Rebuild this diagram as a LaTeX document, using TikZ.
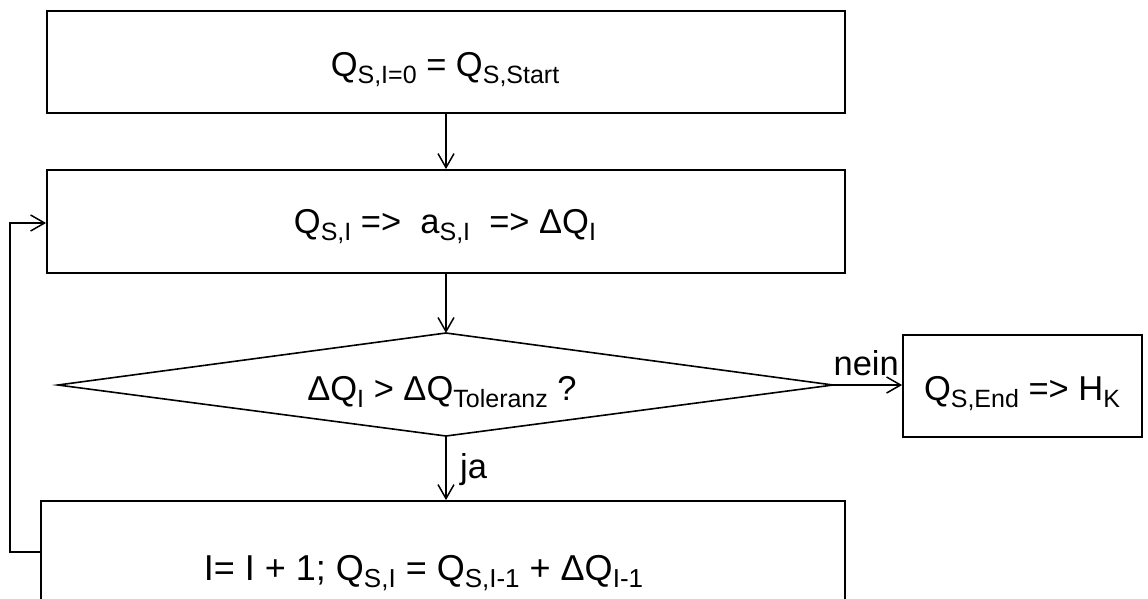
\documentclass[tikz,border=0pt]{standalone}
\usepackage{fontspec}
\setmainfont{Liberation Sans}
\usetikzlibrary{arrows.meta}
% lowered index in a smaller size
\newcommand{\lowidx}[1]{\raisebox{-0.22em}{\fontsize{25}{28}\selectfont #1}}
\newcommand{\lowidxb}[1]{\raisebox{-0.22em}{\fontsize{26}{29}\selectfont #1}}
\begin{document}
\begin{tikzpicture}[x=1pt,y=-1pt,
  txt/.style={font=\fontsize{34.5}{40}\selectfont, inner sep=0pt, anchor=base},
  stepbox/.style={draw, line width=1.8pt, inner sep=0pt},
  flow/.style={line width=1.5pt, -{Straight Barb[length=14pt,width=16pt,line width=1.5pt]}}]
  \useasboundingbox (0,0) rectangle (1148,598);

  % process boxes
  \node[stepbox, minimum width=798pt, minimum height=102pt] (init) at (446,62) {};
  \node[txt] (tinit) at (445,76) {Q\lowidx{S,I=0} = Q\lowidx{S,Start}};

  \node[stepbox, minimum width=798pt, minimum height=103pt] (calc) at (446,221.5) {};
  \node[txt] (tcalc) at (445,233) {Q\lowidx{S,I} =>\ \ a\lowidx{S,I}\ \ => ΔQ\lowidx{I}};

  % decision
  \coordinate (dtop) at (446,333);
  \coordinate (dbot) at (446,436);
  \coordinate (dleft) at (58,385);
  \coordinate (dright) at (833,385);
  \draw[line width=1.6pt, line join=miter] (dtop) -- (dright) -- (dbot) -- (dleft) -- cycle;
  \node[txt] (tdec) at (442,400) {ΔQ\lowidx{I} > ΔQ\lowidx{Toleranz} ?};

  \node[stepbox, minimum width=239pt, minimum height=102pt] (res) at (1022.5,386) {};
  \node[txt] (tres) at (1022,400) {Q\lowidx{S,End} => H\lowidx{K}};

  \node[stepbox, minimum width=804pt, minimum height=113pt] (upd) at (443,557.5) {};
  \node[txt, font=\fontsize{36}{42}\selectfont] (tupd) at (423.5,580) {I= I + 1; Q\lowidxb{S,I} = Q\lowidxb{S,I-1} + ΔQ\lowidxb{I-1}};

  % connectors
  \draw[flow] (init.south) -- (calc.north);
  \draw[flow] (calc.south) -- (dtop);
  \draw[flow] (dright) -- (res.west |- dright);
  \draw[flow] (dbot) -- (upd.north -| dbot);
  \coordinate (lb) at (10,552);
  \coordinate (lt) at (10,223);
  \draw[flow] (upd.west |- lb) -- (lb) -- (lt) -- (calc.west |- lt);

  % branch labels
  \node[txt, anchor=base east] (nein) at (899,375) {nein};
  \node[txt, anchor=base west] (ja) at (460,478) {ja};
\end{tikzpicture}
\end{document}
